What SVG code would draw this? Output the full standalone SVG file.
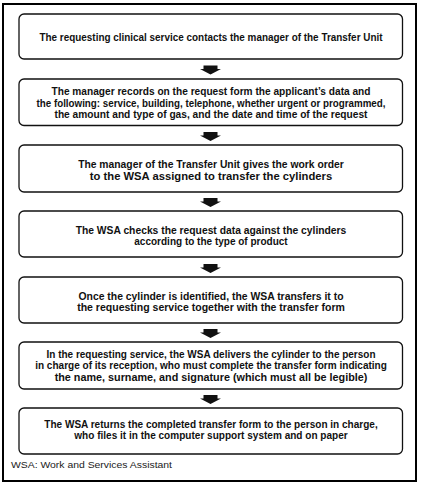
<svg xmlns="http://www.w3.org/2000/svg" xmlns:xlink="http://www.w3.org/1999/xlink" width="421" height="484" viewBox="0 0 421 484">
<style>
.frame{fill:#fff;stroke:#000;stroke-width:2}
.box{fill:#fff;stroke:#111;stroke-width:1.3}
.t{font-family:"Liberation Sans",Arial,sans-serif;font-weight:bold;font-size:10.5px;fill:#111;text-anchor:middle}
.note{font-family:"Liberation Sans",Arial,sans-serif;font-size:9.5px;fill:#222}
.arr{fill:#111}
</style>
<defs>
<path id="arrow" class="arr" d="M-7,0 H7 V3.5 H10.5 L0,9 L-10.5,3.5 H-7 Z"/>
</defs>
<rect width="421" height="484" fill="#fff"/>
<rect class="frame" x="3" y="4" width="413" height="477"/>
<g id="n1">
<rect class="box" x="19" y="14" width="383.5" height="45" rx="5"/>
<text class="t" x="211" y="40.5" textLength="343" lengthAdjust="spacingAndGlyphs">The requesting clinical service contacts the manager of the Transfer Unit</text>
</g>
<g id="n2">
<rect class="box" x="19" y="79" width="383.5" height="46.5" rx="5"/>
<text class="t" x="211" y="95" textLength="319" lengthAdjust="spacingAndGlyphs">The manager records on the request form the applicant’s data and</text>
<text class="t" x="211" y="106.7" textLength="349" lengthAdjust="spacingAndGlyphs">the following: service, building, telephone, whether urgent or programmed,</text>
<text class="t" x="211" y="118.3" textLength="313" lengthAdjust="spacingAndGlyphs">the amount and type of gas, and the date and time of the request</text>
</g>
<g id="n3">
<rect class="box" x="19" y="145" width="383.5" height="47" rx="5"/>
<text class="t" x="211" y="168.3" textLength="265.7" lengthAdjust="spacingAndGlyphs">The manager of the Transfer Unit gives the work order</text>
<text class="t" x="211" y="179.5" textLength="242.3" lengthAdjust="spacingAndGlyphs">to the WSA assigned to transfer the cylinders</text>
</g>
<g id="n4">
<rect class="box" x="19" y="211" width="383.5" height="46" rx="5"/>
<text class="t" x="211" y="233.5" textLength="270.7" lengthAdjust="spacingAndGlyphs">The WSA checks the request data against the cylinders</text>
<text class="t" x="211" y="245" textLength="153.4" lengthAdjust="spacingAndGlyphs">according to the type of product</text>
</g>
<g id="n5">
<rect class="box" x="19" y="277" width="383.5" height="46" rx="5"/>
<text class="t" x="211" y="299.5" textLength="265" lengthAdjust="spacingAndGlyphs">Once the cylinder is identified, the WSA transfers it to</text>
<text class="t" x="211" y="311" textLength="267.7" lengthAdjust="spacingAndGlyphs">the requesting service together with the transfer form</text>
</g>
<g id="n6">
<rect class="box" x="19" y="342" width="383.5" height="47" rx="5"/>
<text class="t" x="211" y="357.5" textLength="329" lengthAdjust="spacingAndGlyphs">In the requesting service, the WSA delivers the cylinder to the person</text>
<text class="t" x="211" y="369" textLength="351.7" lengthAdjust="spacingAndGlyphs">in charge of its reception, who must complete the transfer form indicating</text>
<text class="t" x="211" y="381" textLength="312.7" lengthAdjust="spacingAndGlyphs">the name, surname, and signature (which must all be legible)</text>
</g>
<g id="n7">
<rect class="box" x="19" y="408" width="383.5" height="46" rx="5"/>
<text class="t" x="211" y="427.7" textLength="333.4" lengthAdjust="spacingAndGlyphs">The WSA returns the completed transfer form to the person in charge,</text>
<text class="t" x="211" y="439" textLength="273.4" lengthAdjust="spacingAndGlyphs">who files it in the computer support system and on paper</text>
</g>
<g id="connectors">
<use xlink:href="#arrow" x="210.5" y="65.5"/>
<use xlink:href="#arrow" x="210.5" y="132"/>
<use xlink:href="#arrow" x="210.5" y="198"/>
<use xlink:href="#arrow" x="210.5" y="264"/>
<use xlink:href="#arrow" x="210.5" y="329"/>
<use xlink:href="#arrow" x="210.5" y="395"/>
</g>
<text class="note" x="11" y="468" textLength="161" lengthAdjust="spacingAndGlyphs">WSA: Work and Services Assistant</text>
</svg>
